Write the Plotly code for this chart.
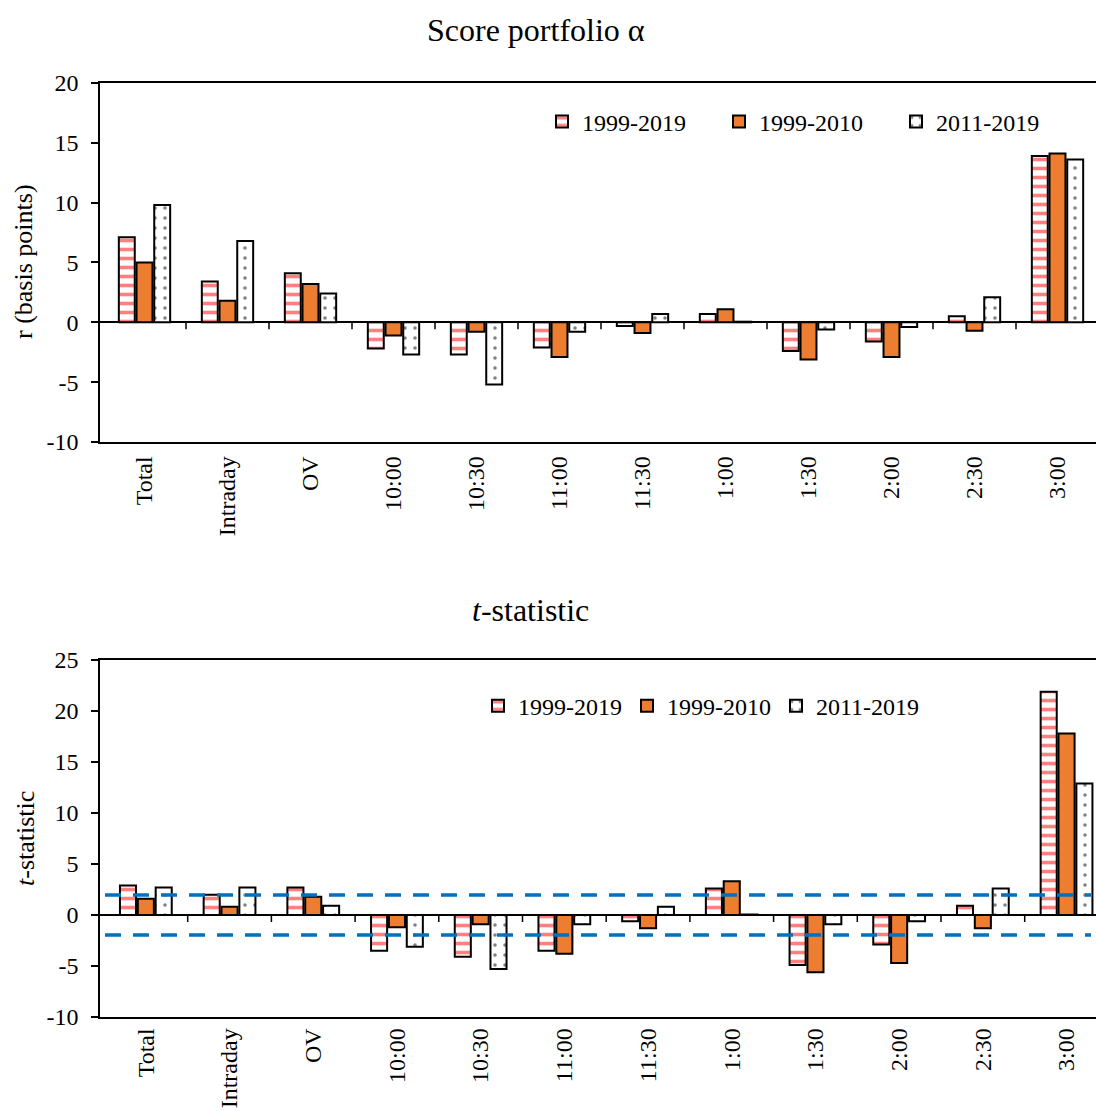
import plotly.graph_objects as go

categories = ["Total", "Intraday", "OV", "10:00", "10:30", "11:00", "11:30",
              "1:00", "1:30", "2:00", "2:30", "3:00"]
series_names = ["1999-2019", "1999-2010", "2011-2019"]

alpha_1999_2019 = [7.1, 3.4, 4.1, -2.2, -2.7, -2.1, -0.3, 0.7, -2.4, -1.6, 0.5, 13.9]
alpha_1999_2010 = [5.0, 1.8, 3.2, -1.1, -0.8, -2.9, -0.9, 1.1, -3.1, -2.9, -0.7, 14.1]
alpha_2011_2019 = [9.8, 6.8, 2.4, -2.7, -5.2, -0.8, 0.7, 0.05, -0.6, -0.4, 2.1, 13.6]

t_1999_2019 = [2.9, 2.0, 2.7, -3.5, -4.1, -3.5, -0.6, 2.6, -4.9, -2.9, 0.9, 21.9]
t_1999_2010 = [1.6, 0.8, 1.8, -1.2, -0.9, -3.8, -1.3, 3.3, -5.6, -4.7, -1.3, 17.8]
t_2011_2019 = [2.7, 2.7, 0.9, -3.1, -5.3, -0.9, 0.8, 0.05, -0.9, -0.6, 2.6, 12.9]

top_ticks = [-10, -5, 0, 5, 10, 15, 20]
bot_ticks = [-10, -5, 0, 5, 10, 15, 20, 25]
crit = 1.96

FONT = "Liberation Serif, Times New Roman, serif"
ORANGE = "#ED7D31"

styles = [
    dict(color="white", pattern=dict(shape="-", fgcolor="#FF0000", bgcolor="white", size=9, solidity=0.4, fillmode="overlay")),
    dict(color=ORANGE),
    dict(color="white", pattern=dict(shape=".", fgcolor="black", bgcolor="white", size=10, solidity=0.1, fillmode="overlay")),
]

fig = go.Figure()

top_data = [alpha_1999_2019, alpha_1999_2010, alpha_2011_2019]
bot_data = [t_1999_2019, t_1999_2010, t_2011_2019]

for name, vals, st in zip(series_names, top_data, styles):
    fig.add_trace(go.Bar(x=categories, y=vals, name=name, xaxis="x", yaxis="y",
                         marker=dict(**st, line=dict(color="black", width=2)),
                         legend="legend"))
for name, vals, st in zip(series_names, bot_data, styles):
    fig.add_trace(go.Bar(x=categories, y=vals, name=name, xaxis="x2", yaxis="y2",
                         marker=dict(**st, line=dict(color="black", width=2)),
                         legend="legend2"))


def tick_labels(vals):
    return [str(v).replace("\u2212", "-") for v in vals]


xcommon = dict(showline=True, linecolor="black", linewidth=1.5, mirror=True, ticks="",
               tickangle=-90,
               tickfont=dict(family=FONT, size=24, color="black"), showgrid=False, zeroline=False)
ycommon = dict(showline=True, linecolor="black", linewidth=1.5, ticks="outside", tickcolor="black",
               ticklen=7, tickwidth=1.5, ticklabelstandoff=8,
               tickfont=dict(family=FONT, size=24, color="black"), showgrid=False,
               zeroline=True, zerolinecolor="black", zerolinewidth=1.5)

ncat = len(categories)
top_cat_px = 83.0
bot_cat_px = 83.7
plot_px = 996

fig.update_layout(
    width=1096, height=1111,
    margin=dict(l=100, r=0, t=0, b=0, autoexpand=False),
    paper_bgcolor="white", plot_bgcolor="white",
    barmode="group", bargap=0.36, bargroupgap=0.1,
    font=dict(family=FONT, size=24, color="black"),
    showlegend=True,
    xaxis=dict(domain=[0, 1], anchor="y", ticklabelstandoff=3,
               range=[-0.5 - 3 / top_cat_px, -0.5 - 3 / top_cat_px + plot_px / top_cat_px], **xcommon),
    yaxis=dict(domain=[0.6022, 0.9253], range=[-10, 20], tickvals=top_ticks,
               ticktext=tick_labels(top_ticks), anchor="x", **ycommon),
    xaxis2=dict(domain=[0, 1], anchor="y2", ticklabelstandoff=0,
                range=[-0.5 - 4 / bot_cat_px, -0.5 - 4 / bot_cat_px + plot_px / bot_cat_px], **xcommon),
    yaxis2=dict(domain=[0.0846, 0.4059], range=[-10, 25], tickvals=bot_ticks,
                ticktext=tick_labels(bot_ticks), anchor="x2", **ycommon),
    legend=dict(orientation="h", x=0.4438, y=0.8902, xanchor="left", yanchor="middle",
                font=dict(family=FONT, size=24), bgcolor="rgba(0,0,0,0)",
                traceorder="normal", entrywidthmode="pixels", entrywidth=132),
    legend2=dict(orientation="h", x=0.3795, y=0.3645, xanchor="left", yanchor="middle",
                 font=dict(family=FONT, size=24), bgcolor="rgba(0,0,0,0)",
                 traceorder="normal"),
)

# tick marks on the zero line at category boundaries
for xr, yr in [("x", "y"), ("x2", "y2")]:
    for i in range(ncat - 1):
        fig.add_shape(type="line", xref=xr, yref=yr, ysizemode="pixel", yanchor=0,
                      x0=i + 0.5, x1=i + 0.5, y0=0, y1=-7,
                      line=dict(color="black", width=1.5), layer="above")

# critical value lines
for v in (crit, -crit):
    fig.add_shape(type="line", xref="x2 domain", yref="y2", x0=0.005, x1=0.995, y0=v, y1=v,
                  line=dict(color="#0070C0", width=3.5, dash="16px,12px"), layer="above")

fig.add_annotation(text="Score portfolio α", xref="paper", yref="paper", x=0.4378, y=1 - 30 / 1111,
                   showarrow=False, font=dict(family=FONT, size=32), xanchor="center", yanchor="middle")
fig.add_annotation(text="<i>t</i>-statistic", xref="paper", yref="paper", x=0.4327, y=1 - 610 / 1111,
                   showarrow=False, font=dict(family=FONT, size=32), xanchor="center", yanchor="middle")
fig.add_annotation(text="r (basis points)", xref="paper", yref="paper", x=-77 / 996, y=1 - 262 / 1111,
                   showarrow=False, textangle=-90, font=dict(family=FONT, size=26),
                   xanchor="center", yanchor="middle")
fig.add_annotation(text="<i>t</i>-statistic", xref="paper", yref="paper", x=-75 / 996, y=1 - 839 / 1111,
                   showarrow=False, textangle=-90, font=dict(family=FONT, size=26),
                   xanchor="center", yanchor="middle")

fig.write_html("out.html")
